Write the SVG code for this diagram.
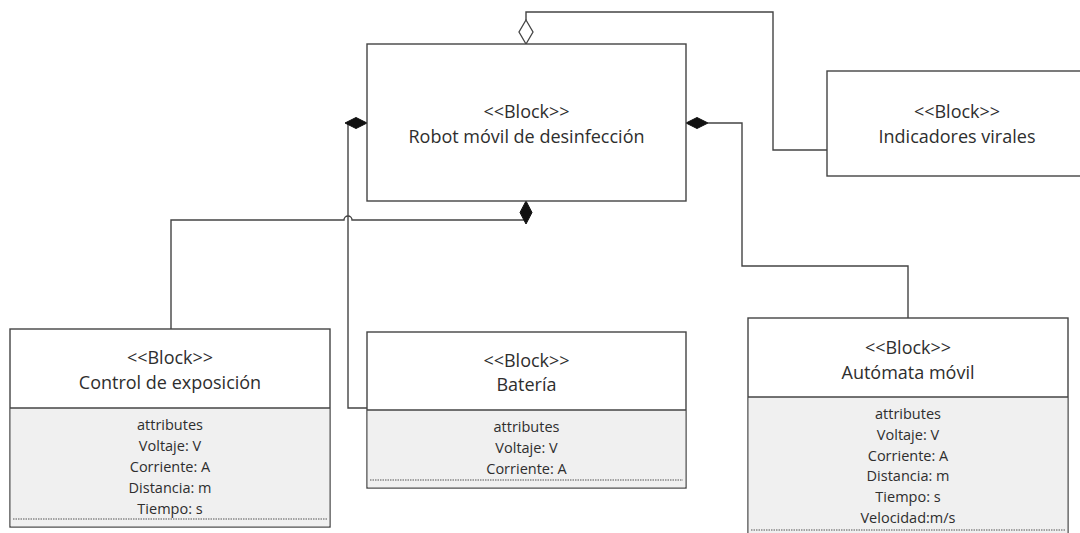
<svg xmlns="http://www.w3.org/2000/svg" width="1080" height="533" viewBox="0 0 1080 533">
<style>
  .box { fill: #ffffff; stroke: #444444; stroke-width: 1.4; }
  .attr { fill: #f0f0f0; stroke: none; }
  .div { stroke: #444444; stroke-width: 1.4; }
  .dots { stroke: #555555; stroke-width: 1; stroke-dasharray: 1.5 1; }
  .hdr { font-family: "Open Sans", "Noto Sans", sans-serif; font-size: 18px; fill: #2e2e2e; text-anchor: middle; }
  .at { font-family: "Open Sans", "Noto Sans", sans-serif; font-size: 14.5px; fill: #2e2e2e; text-anchor: middle; }
  .conn { fill: none; stroke: #444444; stroke-width: 1.4; }
  .comp { fill: #111111; stroke: #111111; stroke-width: 1; }
  .aggr { fill: #ffffff; stroke: #444444; stroke-width: 1.3; }
</style>
<rect width="1080" height="533" fill="#ffffff"/>

<g id="connectors">
  <path class="conn" d="M526,20 V12 H773 V150 H827"/>
  <path class="conn" d="M348,123 V408 H367"/>
  <path class="conn" d="M526,220 H352 A4,4 0 0 0 344,220 H171 V329"/>
  <path class="conn" d="M708,123 H742 V266 H908 V318"/>
  <polygon class="aggr" points="526,20 533,32 526,44 519,32"/>
  <polygon class="comp" points="345,123 356,117.5 367,123 356,128.5"/>
  <polygon class="comp" points="686,123 697,117.5 708,123 697,128.5"/>
  <polygon class="comp" points="526,201 532,212.5 526,224 520,212.5"/>
</g>

<g id="robot">
  <rect class="box" x="367" y="44" width="319" height="157"/>
  <text class="hdr" x="526.5" y="118">&lt;&lt;Block&gt;&gt;</text>
  <text class="hdr" x="526.5" y="143">Robot móvil de desinfección</text>
</g>

<g id="indicadores">
  <rect class="box" x="827" y="71" width="262" height="105"/>
  <text class="hdr" x="957" y="118">&lt;&lt;Block&gt;&gt;</text>
  <text class="hdr" x="957" y="143">Indicadores virales</text>
</g>

<g id="control">
  <rect class="box" x="10" y="329" width="320" height="198"/>
  <rect class="attr" x="10.7" y="408" width="318.6" height="118.3"/>
  <line class="div" x1="10" y1="408" x2="330" y2="408"/>
  <line class="dots" x1="13" y1="519" x2="327" y2="519"/>
  <text class="hdr" x="170" y="364">&lt;&lt;Block&gt;&gt;</text>
  <text class="hdr" x="170" y="389">Control de exposición</text>
  <text class="at" x="170" y="430">attributes</text>
  <text class="at" x="170" y="451">Voltaje: V</text>
  <text class="at" x="170" y="472">Corriente: A</text>
  <text class="at" x="170" y="493">Distancia: m</text>
  <text class="at" x="170" y="514">Tiempo: s</text>
</g>

<g id="bateria">
  <rect class="box" x="367" y="332" width="319" height="156"/>
  <rect class="attr" x="367.7" y="410" width="317.6" height="77.3"/>
  <line class="div" x1="367" y1="410" x2="686" y2="410"/>
  <line class="dots" x1="370" y1="480" x2="683" y2="480"/>
  <text class="hdr" x="526.5" y="367">&lt;&lt;Block&gt;&gt;</text>
  <text class="hdr" x="526.5" y="391">Batería</text>
  <text class="at" x="526.5" y="432">attributes</text>
  <text class="at" x="526.5" y="453">Voltaje: V</text>
  <text class="at" x="526.5" y="474">Corriente: A</text>
</g>

<g id="automata">
  <rect class="box" x="748" y="318" width="320" height="225"/>
  <rect class="attr" x="748.7" y="397" width="318.6" height="145"/>
  <line class="div" x1="748" y1="397" x2="1068" y2="397"/>
  <line class="dots" x1="751" y1="530" x2="1065" y2="530"/>
  <text class="hdr" x="908" y="354">&lt;&lt;Block&gt;&gt;</text>
  <text class="hdr" x="908" y="379">Autómata móvil</text>
  <text class="at" x="908" y="419">attributes</text>
  <text class="at" x="908" y="440">Voltaje: V</text>
  <text class="at" x="908" y="461">Corriente: A</text>
  <text class="at" x="908" y="481">Distancia: m</text>
  <text class="at" x="908" y="502">Tiempo: s</text>
  <text class="at" x="908" y="523">Velocidad:m/s</text>
</g>
</svg>
